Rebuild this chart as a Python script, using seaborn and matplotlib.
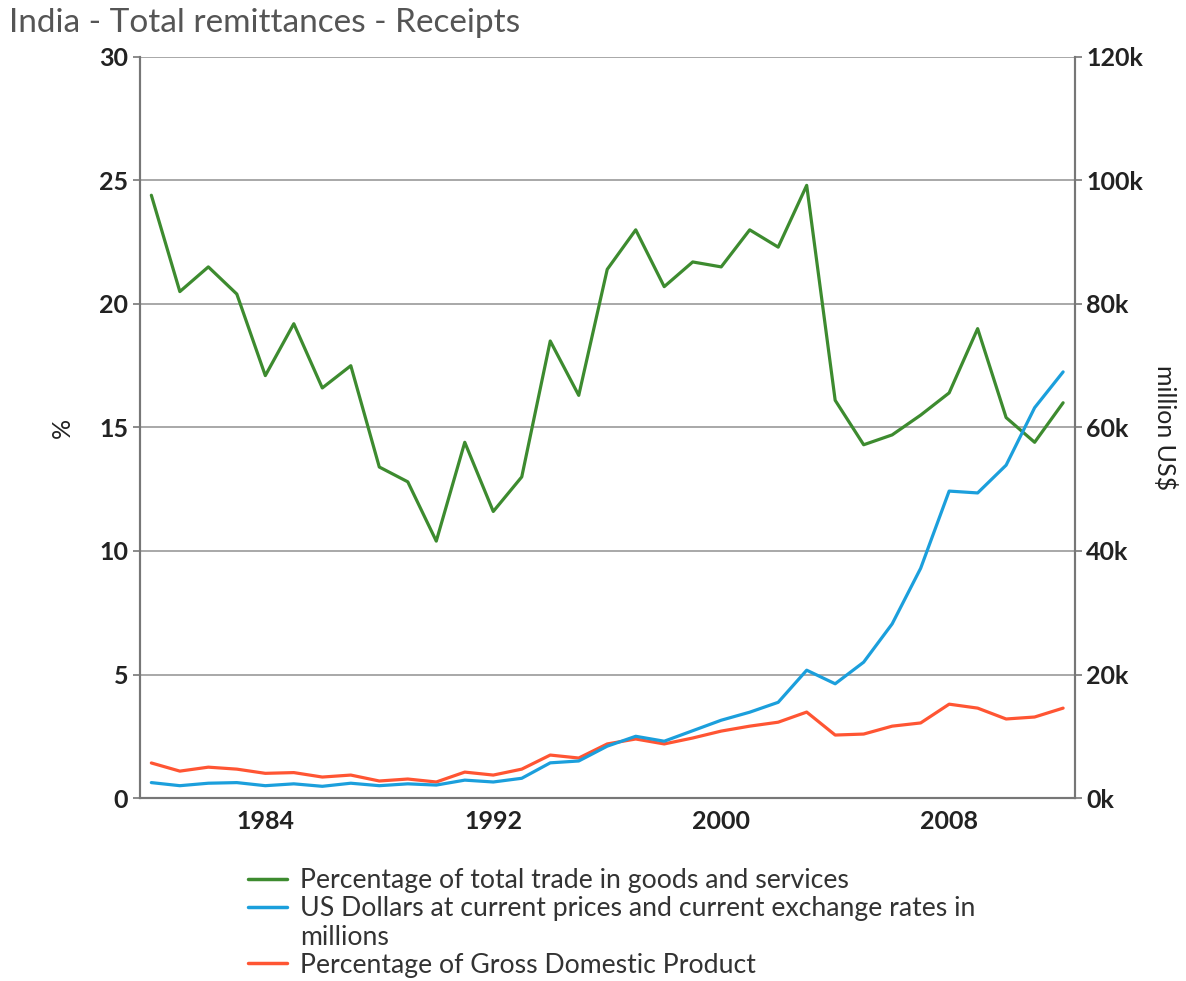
import numpy as np
import pandas as pd
import seaborn as sns
import matplotlib.pyplot as plt
from matplotlib.lines import Line2D
from matplotlib.ticker import FuncFormatter

years = list(range(1980, 2013))

# percentage of total trade in goods and services
trade_pct = [24.4, 20.5, 21.5, 20.4, 17.1, 19.2, 16.6, 17.5, 13.4, 12.8,
             10.4, 14.4, 11.6, 13.0, 18.5, 16.3, 21.4, 23.0, 20.7, 21.7,
             21.5, 23.0, 22.3, 24.8, 16.1, 14.3, 14.7, 15.5, 16.4, 19.0,
             15.4, 14.4, 16.0]

# million US$
usd_mn = [2500, 2000, 2400, 2500, 2000, 2300, 1900, 2400, 2000, 2300,
          2100, 2900, 2600, 3200, 5700, 6000, 8400, 10000, 9200, 10900,
          12600, 13900, 15500, 20700, 18500, 22000, 28200, 37200, 49700, 49400,
          53900, 63200, 69000]

# percentage of GDP
gdp_pct = [1.42, 1.09, 1.25, 1.17, 1.0, 1.03, 0.85, 0.93, 0.69, 0.77,
           0.65, 1.05, 0.93, 1.17, 1.74, 1.62, 2.19, 2.39, 2.19, 2.43,
           2.71, 2.91, 3.07, 3.48, 2.55, 2.59, 2.91, 3.04, 3.8, 3.64,
           3.2, 3.28, 3.64]

labels = ["Percentage of total trade in goods and services",
          "US Dollars at current prices and current exchange rates in",
          "millions",
          "Percentage of Gross Domestic Product"]
colors = ["#3d8b2f", "#1b9fdc", "#ff5533"]

df = pd.DataFrame({"year": years, "trade": trade_pct, "usd": usd_mn, "gdp": gdp_pct})

sns.set_style("white")
plt.rcParams['font.family'] = ['Lato', 'DejaVu Sans']

fig = plt.figure(figsize=(11.86, 9.81), dpi=100)
ax = fig.add_axes([0.118, 0.1865, 0.788, 0.7555])
ax2 = ax.twinx()

sns.lineplot(data=df, x="year", y="trade", ax=ax, color=colors[0], linewidth=2.3)
sns.lineplot(data=df, x="year", y="gdp", ax=ax, color=colors[2], linewidth=2.3)
sns.lineplot(data=df, x="year", y="usd", ax=ax2, color=colors[1], linewidth=2.3)

ax.set_xlim(1979.6, 2012.4)
ax.set_ylim(0, 30)
ax2.set_ylim(0, 120000)
ax.set_yticks([0, 5, 10, 15, 20, 25, 30])
ax2.set_yticks([0, 20000, 40000, 60000, 80000, 100000, 120000])
ax2.yaxis.set_major_formatter(FuncFormatter(lambda v, p: f"{int(v/1000)}k"))
ax.set_xticks([1984, 1992, 2000, 2008])

ax.yaxis.grid(True, color="#999999", linewidth=1.2)
ax.set_axisbelow(True)
for a in (ax, ax2):
    for s in a.spines.values():
        s.set_color("#777777")
        s.set_linewidth(1.5)
    a.spines["top"].set_visible(False)
    a.tick_params(colors="#222222", labelsize=18, length=5, width=1.2, direction="out")
    a.tick_params(axis="y", which="both", color="#777777")
    for t in a.get_yticklabels() + a.get_xticklabels():
        t.set_fontweight("bold")
ax.tick_params(axis="x", color="#777777")

ax.set_xlabel("")
ax.set_ylabel("%", fontsize=18, color="#222222", labelpad=18)
ax2.set_ylabel("million US$", fontsize=18, color="#222222", rotation=-90, labelpad=24)

fig.text(0.008, 0.977, "India - Total remittances - Receipts", fontsize=24,
         color="#555555", va="center", ha="left")

# wrapped second label: extra row without a handle
handles = [Line2D([0], [0], color=colors[0], linewidth=2.5),
           Line2D([0], [0], color=colors[1], linewidth=2.5),
           Line2D([0], [0], color="none"),
           Line2D([0], [0], color=colors[2], linewidth=2.5)]
fig.legend(handles, labels, loc="upper left", bbox_to_anchor=(0.209, 0.115),
           frameon=False, fontsize=19.2, handlelength=1.45, handletextpad=0.5,
           labelspacing=0.12, borderpad=0, borderaxespad=0,
           labelcolor="#333333")

fig.savefig("out.png", dpi=100)
